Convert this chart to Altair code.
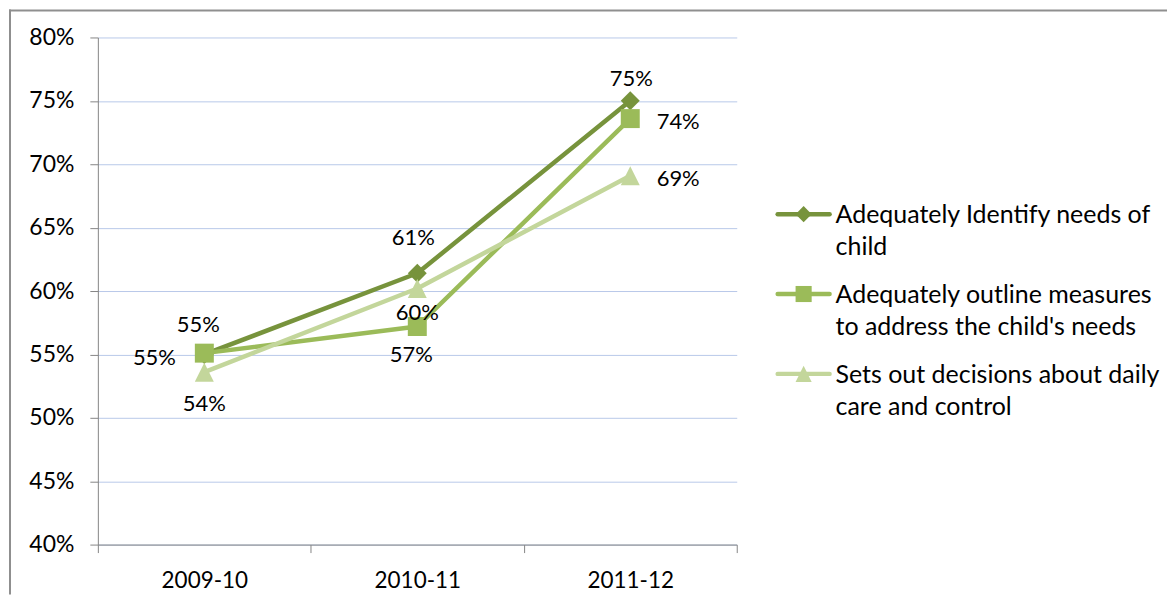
import altair as alt
import pandas as pd

# ---------------- data ----------------
periods = ["2009-10", "2010-11", "2011-12"]
series_names = [
    "Adequately Identify needs of child",
    "Adequately outline measures to address the child's needs",
    "Sets out decisions about daily care and control",
]
identify_needs = [0.550, 0.614, 0.750]
outline_measures = [0.551, 0.572, 0.736]
daily_care = [0.536, 0.602, 0.691]
y_ticks = [0.40, 0.45, 0.50, 0.55, 0.60, 0.65, 0.70, 0.75, 0.80]
legend_text = [
    "Adequately Identify needs of\nchild",
    "Adequately outline measures\nto address the child's needs",
    "Sets out decisions about daily\ncare and control",
]

# ---------------- styling ----------------
FONT = "Lato"
FS_LABEL = 22
FS_Y = 23
FS_X = 22.5
FS_LEG = 25
colors = ["#77933C", "#9BBB59", "#C3D69B"]
shapes = ["diamond", "square", "M0,-1L1,1L-1,1Z"]
axis_gray = "#868686"
frame_gray = "#8F8F8F"
grid_blue = "#B9C9E9"
W, H = 640, 508

# label nudges (dx, dy) for each series / period
label_nudge = {
    (0, 0): (-6, -30), (0, 1): (-4, -36), (0, 2): (1, -23),
    (1, 0): (-50, 4), (1, 1): (-6, 28), (1, 2): (48, 2),
    (2, 0): (0, 31), (2, 1): (0, 24), (2, 2): (48, 2),
}

values = [identify_needs, outline_measures, daily_care]
rows = []
for si, name in enumerate(series_names):
    for pi, p in enumerate(periods):
        rows.append({"series": name, "si": si, "period": p, "pi": pi, "value": values[si][pi]})
df = pd.DataFrame(rows)

leg_df = pd.DataFrame({"series": series_names, "label": legend_text})

color = alt.Color("series:N", scale=alt.Scale(domain=series_names, range=colors), legend=None)
shape = alt.Shape("series:N", scale=alt.Scale(domain=series_names, range=shapes), legend=None)

x_enc = alt.X(
    "period:N",
    sort=periods,
    bandPosition=0.5,
    scale=alt.Scale(type="band", domain=periods, paddingInner=0, paddingOuter=0),
    axis=alt.Axis(
        title=None, tickBand="extent", labelAngle=0, tickSize=8, labelPadding=17,
        domainColor=axis_gray, tickColor=axis_gray, grid=False,
        labelFont=FONT, labelFontSize=FS_X, labelColor="#000000",
    ),
)
y_enc = alt.Y(
    "value:Q",
    scale=alt.Scale(domain=[0.4, 0.8], nice=False, zero=False),
    axis=alt.Axis(
        title=None, values=y_ticks, format=".0%", tickSize=8, labelPadding=16,
        domainColor=axis_gray, tickColor=axis_gray, grid=True, gridColor=grid_blue,
        labelFont=FONT, labelFontSize=FS_Y, labelColor="#000000",
    ),
)

base = alt.Chart(df)
lines = base.mark_line(strokeWidth=4.5, strokeCap="round", strokeJoin="round").encode(
    x=x_enc, y=y_enc, color=color, detail="series:N"
)
points = base.mark_point(filled=True, opacity=1, size=361).encode(
    x=x_enc, y=y_enc, color=color, shape=shape
)
labels = []
for (si, pi), (dx, dy) in label_nudge.items():
    labels.append(
        base.transform_filter(f"datum.si == {si} && datum.pi == {pi}")
        .mark_text(font=FONT, fontSize=FS_LABEL, color="#000000", dx=dx, dy=dy + 1,
                   baseline="middle", align="center")
        .encode(x=x_enc, y=y_enc, text=alt.Text("value:Q", format=".0%"))
    )
main = alt.layer(lines, points, *labels)

# legend (drawn inside the same chart, to the right of the plot)
leg_y = alt.Y("series:N", scale=alt.Scale(type="point", domain=series_names, range=[177, 337], padding=0), axis=None)
leg_base = alt.Chart(leg_df)
leg_line = leg_base.mark_rule(strokeWidth=4.5, strokeCap="round").encode(
    x=alt.value(681), x2=alt.value(733), y=leg_y, color=color
)
leg_pts = leg_base.mark_point(filled=True, opacity=1, size=260).encode(
    x=alt.value(707), y=leg_y, color=color, shape=shape
)
leg_txt = leg_base.mark_text(
    font=FONT, fontSize=FS_LEG, color="#000000", align="left", baseline="top",
    lineBreak="\n", lineHeight=32, dy=-11,
).encode(x=alt.value(739), y=leg_y, text="label:N")
legend = alt.layer(leg_line, leg_pts, leg_txt)

# outer frame (left and top edges)
frame_top = alt.Chart(pd.DataFrame({"a": [0]})).mark_rule(color=frame_gray, strokeWidth=2).encode(
    x=alt.value(-89), x2=alt.value(1071), y=alt.value(-27), y2=alt.value(-27)
)
frame_left = alt.Chart(pd.DataFrame({"a": [0]})).mark_rule(color=frame_gray, strokeWidth=2).encode(
    x=alt.value(-88), x2=alt.value(-88), y=alt.value(-28), y2=alt.value(558)
)

chart = (
    alt.layer(frame_top, frame_left, main, legend)
    .resolve_scale(y="independent")
    .properties(width=W, height=H, padding=0, background="white")
    .configure_view(stroke=None)
)

chart.save("out.html", embed_options={"renderer": "svg", "actions": False})
